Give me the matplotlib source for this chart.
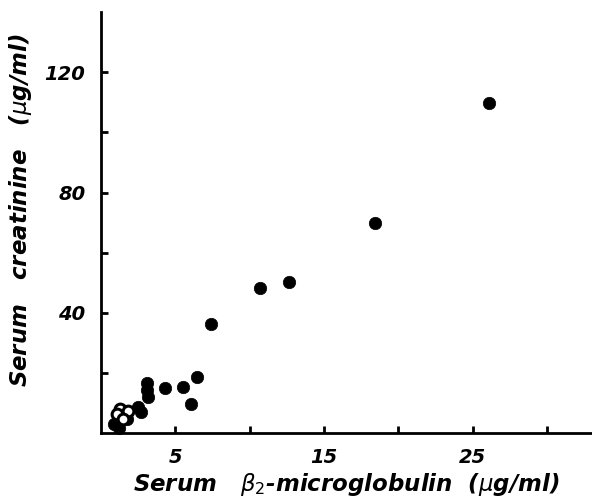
import matplotlib
matplotlib.use("Agg")
import matplotlib.pyplot as plt
from matplotlib.ticker import FixedLocator, NullFormatter

# filled circles
b2m_filled = [26.1, 18.4, 12.65, 10.7, 7.4, 6.5, 5.5, 6.1, 4.3, 3.1, 3.1, 3.15,
              2.7, 2.5, 1.8, 0.9, 1.25]
creat_filled = [109.8, 69.7, 50.4, 48.1, 36.2, 18.6, 15.3, 9.6, 14.9, 16.6, 14.3, 11.9,
                7.0, 8.6, 4.6, 3.0, 1.7]

# open circles
b2m_open = [1.3, 1.85, 1.1, 1.5]
creat_open = [8.0, 7.3, 6.3, 4.6]

x_major = [5, 15, 25]
x_minor = [10, 20, 30]
y_major = [40, 80, 120]
y_minor = [20, 60, 100]

plt.rcParams['mathtext.fontset'] = 'dejavusans'

fig = plt.figure(figsize=(5.92, 5.03), dpi=100)
ax = fig.add_axes([0.17, 0.139, 0.83, 0.837])

ax.scatter(b2m_filled, creat_filled, s=80, c='black', edgecolors='black',
           linewidths=0.5, zorder=3, clip_on=False)
ax.scatter(b2m_open, creat_open, s=60, facecolors='white', edgecolors='black',
           linewidths=2.2, zorder=4, clip_on=False)

ax.set_xlim(0, 33)
ax.set_ylim(0, 140)

for s in ['top', 'right']:
    ax.spines[s].set_visible(False)
for s in ['left', 'bottom']:
    ax.spines[s].set_linewidth(2)

ax.xaxis.set_major_locator(FixedLocator(x_major))
ax.xaxis.set_minor_locator(FixedLocator(x_minor))
ax.yaxis.set_major_locator(FixedLocator(y_major))
ax.yaxis.set_minor_locator(FixedLocator(y_minor))
ax.xaxis.set_minor_formatter(NullFormatter())
ax.yaxis.set_minor_formatter(NullFormatter())

ax.tick_params(which='both', direction='in', length=5, width=2)
ax.tick_params(axis='x', which='major', pad=11)
ax.tick_params(axis='y', which='major', pad=11)

for lab in ax.get_xticklabels() + ax.get_yticklabels():
    lab.set_fontsize(14)
    lab.set_fontstyle('italic')
    lab.set_fontweight('bold')

ax.set_xlabel(r"Serum   $\beta_2$-microglobulin  ($\mu$g/ml)", fontsize=16.5,
              fontstyle='italic', fontweight='bold')
ax.set_ylabel(r"Serum   creatinine   ($\mu$g/ml)", fontsize=16.5,
              fontstyle='italic', fontweight='bold')
ax.xaxis.set_label_coords(0.5, -0.09)
ax.yaxis.set_label_coords(-0.135, 0.53)

fig.savefig("out.png", dpi=100)
plt.close()
